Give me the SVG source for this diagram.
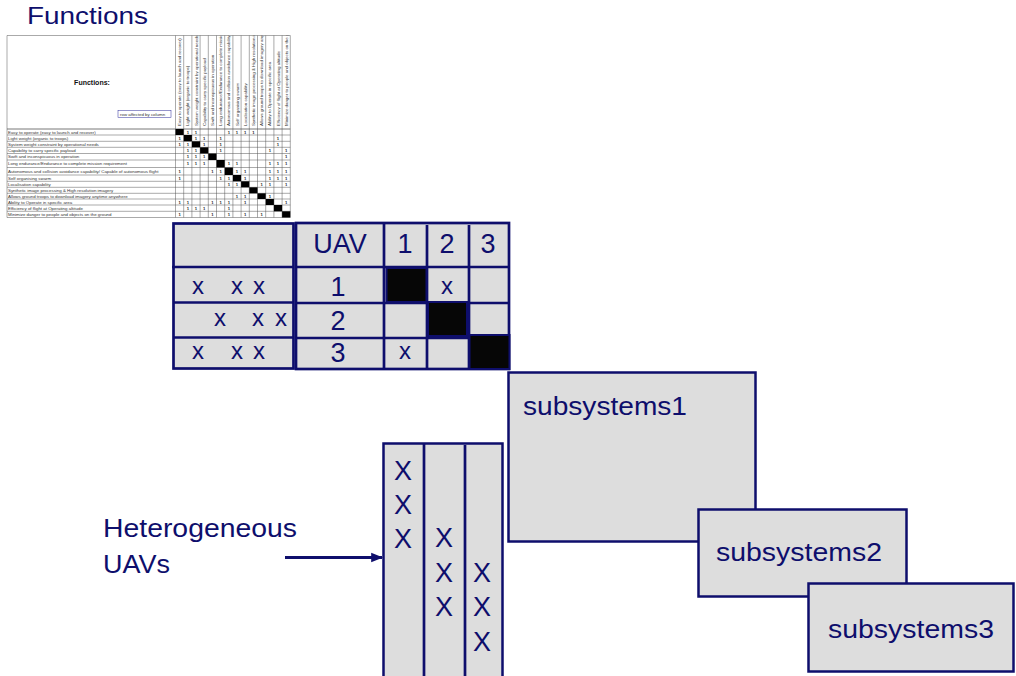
<svg xmlns="http://www.w3.org/2000/svg" width="1016" height="676" viewBox="0 0 1016 676">
  <style>
    .navy { fill: #0e0e6c; font-family: "Liberation Sans", Arial, sans-serif; }
    .big { font-size: 26px; }
    .cell { fill: #dddddd; stroke: #0e0e6c; stroke-width: 2.7; }
    .blk { fill: #060606; stroke: #0e0e6c; stroke-width: 2; }
    .div { stroke: #0e0e6c; stroke-width: 2.7; fill: none; }
    .mx { font-family: "Liberation Sans", Arial, sans-serif; font-size: 27px; fill: #0e0e6c; text-anchor: middle; }
    .xs { font-family: "Liberation Sans", Arial, sans-serif; font-size: 24px; fill: #0e0e6c; }
    .box { fill: #dddddd; stroke: #0e0e6c; stroke-width: 2.5; }
    .tl { stroke: #555; stroke-width: 0.5; fill: none; }
    .tt { font-family: "Liberation Sans", Arial, sans-serif; font-size: 4.4px; fill: #333; }
    .one { font-family: "Liberation Sans", Arial, sans-serif; font-size: 4.2px; font-weight: bold; fill: #222; text-anchor: middle; }
    .dg { fill: #000; }
  </style>
  <defs>
    <clipPath id="hdrClip"><rect x="175.5" y="35.5" width="115" height="92.5"/></clipPath>
    <clipPath id="rowClip"><rect x="7" y="129" width="168.5" height="89"/></clipPath>
    <marker id="arrowHead" viewBox="0 0 10 10" refX="9" refY="5" markerWidth="4" markerHeight="4" orient="auto" markerUnits="strokeWidth">
      <path d="M0,1 L10,5 L0,9 z" fill="#0e0e6c"/>
    </marker>
  </defs>

  <rect width="1016" height="676" fill="#ffffff"/>

  <!-- heading -->
  <g id="functions-title">
    <text class="navy" x="27" y="24" font-size="24" textLength="121" lengthAdjust="spacingAndGlyphs">Functions</text>
  </g>

  <!-- function dependency matrix (spreadsheet view) -->
  <g id="function-dsm">
    <rect x="7" y="35.5" width="283.3" height="182" fill="#ffffff"/>
    <!-- outer lines -->
    <line class="tl" x1="7" y1="35.5" x2="290.3" y2="35.5" stroke-width="0.8"/>
    <line class="tl" x1="7" y1="35.5" x2="7" y2="217.5"/>
    <text x="92" y="85" font-family="Liberation Sans, Arial, sans-serif" font-size="7" font-weight="bold" fill="#111" text-anchor="middle">Functions:</text>
    <rect x="118" y="110.5" width="53" height="7" fill="#fff" stroke="#2a2a9a" stroke-width="0.5"/>
    <text class="tt" x="120" y="115.6" font-size="4.2">row affected by column</text>

    <!-- column lines -->
    <g class="tl">
      <line x1="175.5" y1="35.5" x2="175.5" y2="217.5"/>
      <line x1="183.7" y1="35.5" x2="183.7" y2="217.5"/>
      <line x1="191.9" y1="35.5" x2="191.9" y2="217.5"/>
      <line x1="200.1" y1="35.5" x2="200.1" y2="217.5"/>
      <line x1="208.3" y1="35.5" x2="208.3" y2="217.5"/>
      <line x1="216.5" y1="35.5" x2="216.5" y2="217.5"/>
      <line x1="224.7" y1="35.5" x2="224.7" y2="217.5"/>
      <line x1="232.9" y1="35.5" x2="232.9" y2="217.5"/>
      <line x1="241.1" y1="35.5" x2="241.1" y2="217.5"/>
      <line x1="249.3" y1="35.5" x2="249.3" y2="217.5"/>
      <line x1="257.5" y1="35.5" x2="257.5" y2="217.5"/>
      <line x1="265.7" y1="35.5" x2="265.7" y2="217.5"/>
      <line x1="273.9" y1="35.5" x2="273.9" y2="217.5"/>
      <line x1="282.1" y1="35.5" x2="282.1" y2="217.5"/>
      <line x1="290.3" y1="35.5" x2="290.3" y2="217.5"/>
    </g>
    <!-- row lines -->
    <g class="tl">
      <line x1="7" y1="129" x2="290.3" y2="129" stroke-width="0.8"/>
      <line x1="7" y1="135" x2="290.3" y2="135"/>
      <line x1="7" y1="141.3" x2="290.3" y2="141.3"/>
      <line x1="7" y1="147.3" x2="290.3" y2="147.3"/>
      <line x1="7" y1="153.5" x2="290.3" y2="153.5"/>
      <line x1="7" y1="160" x2="290.3" y2="160"/>
      <line x1="7" y1="167.5" x2="290.3" y2="167.5"/>
      <line x1="7" y1="175" x2="290.3" y2="175"/>
      <line x1="7" y1="181.3" x2="290.3" y2="181.3"/>
      <line x1="7" y1="187.3" x2="290.3" y2="187.3"/>
      <line x1="7" y1="193.3" x2="290.3" y2="193.3"/>
      <line x1="7" y1="199" x2="290.3" y2="199"/>
      <line x1="7" y1="205" x2="290.3" y2="205"/>
      <line x1="7" y1="211.3" x2="290.3" y2="211.3"/>
      <line x1="7" y1="217.5" x2="290.3" y2="217.5"/>
    </g>

    <!-- column headings, rotated -->
    <g clip-path="url(#hdrClip)" class="tt">
      <text transform="translate(181.2,126) rotate(-90)">Easy to operate (easy to launch and recover)</text>
      <text transform="translate(189.4,126) rotate(-90)">Light weight (organic to troops)</text>
      <text transform="translate(197.6,126) rotate(-90)">System weight constraint by operational needs</text>
      <text transform="translate(205.8,126) rotate(-90)">Capability to carry specific payload</text>
      <text transform="translate(214,126) rotate(-90)">Swift and inconspicuous in operation</text>
      <text transform="translate(222.2,126) rotate(-90)">Long endurance/Endurance to complete mission requirement</text>
      <text transform="translate(230.4,126) rotate(-90)">Autonomous and collision avoidance capability</text>
      <text transform="translate(238.6,126) rotate(-90)">Self organising swarm</text>
      <text transform="translate(246.8,126) rotate(-90)">Localisation capability</text>
      <text transform="translate(255,126) rotate(-90)">Synthetic image processing &amp; High resolution imagery</text>
      <text transform="translate(263.2,126) rotate(-90)">Allows ground troops to download imagery anytime anywhere</text>
      <text transform="translate(271.4,126) rotate(-90)">Ability to Operate in specific area</text>
      <text transform="translate(279.6,126) rotate(-90)">Efficiency of flight at Operating altitude</text>
      <text transform="translate(287.8,126) rotate(-90)">Minimize danger to people and objects on the ground</text>
    </g>

    <!-- row headings -->
    <g clip-path="url(#rowClip)" class="tt">
      <text x="8" y="133.5">Easy to operate (easy to launch and recover)</text>
      <text x="8" y="139.7">Light weight (organic to troops)</text>
      <text x="8" y="145.8">System weight constraint by operational needs</text>
      <text x="8" y="151.9">Capability to carry specific payload</text>
      <text x="8" y="158.3">Swift and inconspicuous in operation</text>
      <text x="8" y="165.3">Long endurance/Endurance to complete mission requirement</text>
      <text x="8" y="172.8">Autonomous and collision avoidance capability/ Capable of autonomous flight</text>
      <text x="8" y="179.7">Self organising swarm</text>
      <text x="8" y="185.8">Localisation capability</text>
      <text x="8" y="191.8">Synthetic image processing &amp; High resolution imagery</text>
      <text x="8" y="197.7">Allows ground troops to download imagery anytime anywhere</text>
      <text x="8" y="203.5">Ability to Operate in specific area</text>
      <text x="8" y="209.7">Efficiency of flight at Operating altitude</text>
      <text x="8" y="215.9">Minimize danger to people and objects on the ground</text>
    </g>

    <!-- diagonal -->
    <g class="dg">
      <rect x="175.5" y="129" width="8.2" height="6"/>
      <rect x="183.7" y="135" width="8.2" height="6.3"/>
      <rect x="191.9" y="141.3" width="8.2" height="6"/>
      <rect x="200.1" y="147.3" width="8.2" height="6.2"/>
      <rect x="208.3" y="153.5" width="8.2" height="6.5"/>
      <rect x="216.5" y="160" width="8.2" height="7.5"/>
      <rect x="224.7" y="167.5" width="8.2" height="7.5"/>
      <rect x="232.9" y="175" width="8.2" height="6.3"/>
      <rect x="241.1" y="181.3" width="8.2" height="6"/>
      <rect x="249.3" y="187.3" width="8.2" height="6"/>
      <rect x="257.5" y="193.3" width="8.2" height="5.7"/>
      <rect x="265.7" y="199" width="8.2" height="6"/>
      <rect x="273.9" y="205" width="8.2" height="6.3"/>
      <rect x="282.1" y="211.3" width="8.2" height="6.2"/>
    </g>

    <!-- dependency marks -->
    <g class="one">
      <!-- row 0 -->
      <text x="187.8" y="133.5">1</text><text x="196" y="133.5">1</text><text x="228.8" y="133.5">1</text><text x="237" y="133.5">1</text><text x="245.2" y="133.5">1</text><text x="253.4" y="133.5">1</text>
      <!-- row 1 -->
      <text x="179.6" y="139.7">1</text><text x="196" y="139.7">1</text><text x="204.2" y="139.7">1</text><text x="220.6" y="139.7">1</text><text x="278" y="139.7">1</text>
      <!-- row 2 -->
      <text x="179.6" y="145.8">1</text><text x="187.8" y="145.8">1</text><text x="204.2" y="145.8">1</text><text x="220.6" y="145.8">1</text><text x="278" y="145.8">1</text>
      <!-- row 3 -->
      <text x="187.8" y="151.9">1</text><text x="196" y="151.9">1</text><text x="220.6" y="151.9">1</text><text x="269.8" y="151.9">1</text><text x="286.2" y="151.9">1</text>
      <!-- row 4 -->
      <text x="187.8" y="158.3">1</text><text x="196" y="158.3">1</text><text x="204.2" y="158.3">1</text><text x="286.2" y="158.3">1</text>
      <!-- row 5 -->
      <text x="187.8" y="165.3">1</text><text x="196" y="165.3">1</text><text x="204.2" y="165.3">1</text><text x="228.8" y="165.3">1</text><text x="237" y="165.3">1</text><text x="269.8" y="165.3">1</text><text x="278" y="165.3">1</text><text x="286.2" y="165.3">1</text>
      <!-- row 6 -->
      <text x="179.6" y="172.8">1</text><text x="212.4" y="172.8">1</text><text x="220.6" y="172.8">1</text><text x="237" y="172.8">1</text><text x="245.2" y="172.8">1</text><text x="269.8" y="172.8">1</text><text x="278" y="172.8">1</text><text x="286.2" y="172.8">1</text>
      <!-- row 7 -->
      <text x="179.6" y="179.7">1</text><text x="220.6" y="179.7">1</text><text x="228.8" y="179.7">1</text><text x="245.2" y="179.7">1</text><text x="269.8" y="179.7">1</text><text x="278" y="179.7">1</text><text x="286.2" y="179.7">1</text>
      <!-- row 8 -->
      <text x="228.8" y="185.8">1</text><text x="237" y="185.8">1</text><text x="261.6" y="185.8">1</text><text x="269.8" y="185.8">1</text><text x="286.2" y="185.8">1</text>
      <!-- row 10 -->
      <text x="237" y="197.7">1</text><text x="245.2" y="197.7">1</text><text x="269.8" y="197.7">1</text>
      <!-- row 11 -->
      <text x="179.6" y="203.5">1</text><text x="187.8" y="203.5">1</text><text x="212.4" y="203.5">1</text><text x="220.6" y="203.5">1</text><text x="228.8" y="203.5">1</text><text x="245.2" y="203.5">1</text><text x="286.2" y="203.5">1</text>
      <!-- row 12 -->
      <text x="187.8" y="209.7">1</text><text x="196" y="209.7">1</text><text x="204.2" y="209.7">1</text><text x="228.8" y="209.7">1</text>
      <!-- row 13 -->
      <text x="179.6" y="215.9">1</text><text x="212.4" y="215.9">1</text><text x="228.8" y="215.9">1</text><text x="245.2" y="215.9">1</text><text x="261.6" y="215.9">1</text>
    </g>
  </g>

  <!-- UAV-level matrix with function rows -->
  <g id="uav-matrix">
    <!-- left block: function marks per UAV -->
    <rect class="cell" x="173.5" y="223.5" width="120" height="145"/>
    <line class="div" x1="172" y1="267" x2="293.5" y2="267"/>
    <line class="div" x1="173.5" y1="302.5" x2="293.5" y2="302.5"/>
    <line class="div" x1="173.5" y1="337.5" x2="293.5" y2="337.5"/>
    <text class="xs" x="192" y="294">x</text><text class="xs" x="231" y="294">x</text><text class="xs" x="253" y="294">x</text>
    <text class="xs" x="214" y="326">x</text><text class="xs" x="252" y="326">x</text><text class="xs" x="275" y="326">x</text>
    <text class="xs" x="192" y="359">x</text><text class="xs" x="231" y="359">x</text><text class="xs" x="253" y="359">x</text>

    <!-- right block: UAV x UAV -->
    <rect class="cell" x="296" y="223" width="213" height="146"/>
    <line class="div" x1="296" y1="267" x2="509" y2="267"/>
    <line class="div" x1="296" y1="303" x2="509" y2="303"/>
    <line class="div" x1="296" y1="338" x2="509" y2="338"/>
    <line class="div" x1="384" y1="223" x2="384" y2="369"/>
    <line class="div" x1="427" y1="225" x2="427" y2="370"/>
    <line class="div" x1="469" y1="225" x2="469" y2="369"/>
    <rect class="blk" x="386.5" y="268" width="40" height="34"/>
    <rect class="blk" x="428" y="302" width="39" height="34"/>
    <rect class="blk" x="469.5" y="335" width="40" height="34"/>

    <text class="mx" x="340" y="253">UAV</text>
    <text class="mx" x="405" y="253">1</text>
    <text class="mx" x="447" y="253">2</text>
    <text class="mx" x="488" y="253">3</text>
    <text class="mx" x="338" y="296">1</text>
    <text class="mx" x="338" y="330">2</text>
    <text class="mx" x="338" y="362">3</text>
    <text class="xs" x="447" y="294" text-anchor="middle">x</text>
    <text class="xs" x="405" y="359" text-anchor="middle">x</text>
  </g>

  <!-- subsystem boxes, stacked -->
  <g id="subsystems1">
    <rect class="box" x="508.5" y="372.5" width="247" height="169"/>
    <text class="navy big" x="523" y="415" textLength="164" lengthAdjust="spacingAndGlyphs">subsystems1</text>
  </g>
  <g id="subsystems2">
    <rect class="box" x="698.5" y="509.5" width="208" height="87"/>
    <text class="navy big" x="716" y="561" textLength="166" lengthAdjust="spacingAndGlyphs">subsystems2</text>
  </g>
  <g id="subsystems3">
    <rect class="box" x="808.5" y="583.5" width="205" height="88"/>
    <text class="navy big" x="828" y="638" textLength="166" lengthAdjust="spacingAndGlyphs">subsystems3</text>
  </g>

  <!-- one column per UAV -->
  <g id="uav-columns">
    <rect class="box" x="383.5" y="443.5" width="119" height="240"/>
    <line class="div" x1="424" y1="444" x2="424" y2="680"/>
    <line class="div" x1="465" y1="445" x2="465" y2="680"/>
    <g class="mx" font-size="26">
      <text x="403" y="480">X</text><text x="403" y="514">X</text><text x="403" y="548">X</text>
      <text x="444" y="547">X</text><text x="444" y="582">X</text><text x="444" y="616">X</text>
      <text x="482" y="582">X</text><text x="482" y="616">X</text><text x="482" y="651">X</text>
    </g>
  </g>

  <!-- caption -->
  <g id="label-heterogeneous">
    <text class="navy big" x="103" y="537" textLength="194" lengthAdjust="spacingAndGlyphs">Heterogeneous</text>
    <text class="navy big" x="103" y="573" textLength="67" lengthAdjust="spacingAndGlyphs">UAVs</text>
  </g>

  <!-- connectors -->
  <g id="connectors">
    <line x1="285" y1="557.5" x2="382" y2="557.5" stroke="#0e0e6c" stroke-width="3" marker-end="url(#arrowHead)"/>
  </g>
</svg>
